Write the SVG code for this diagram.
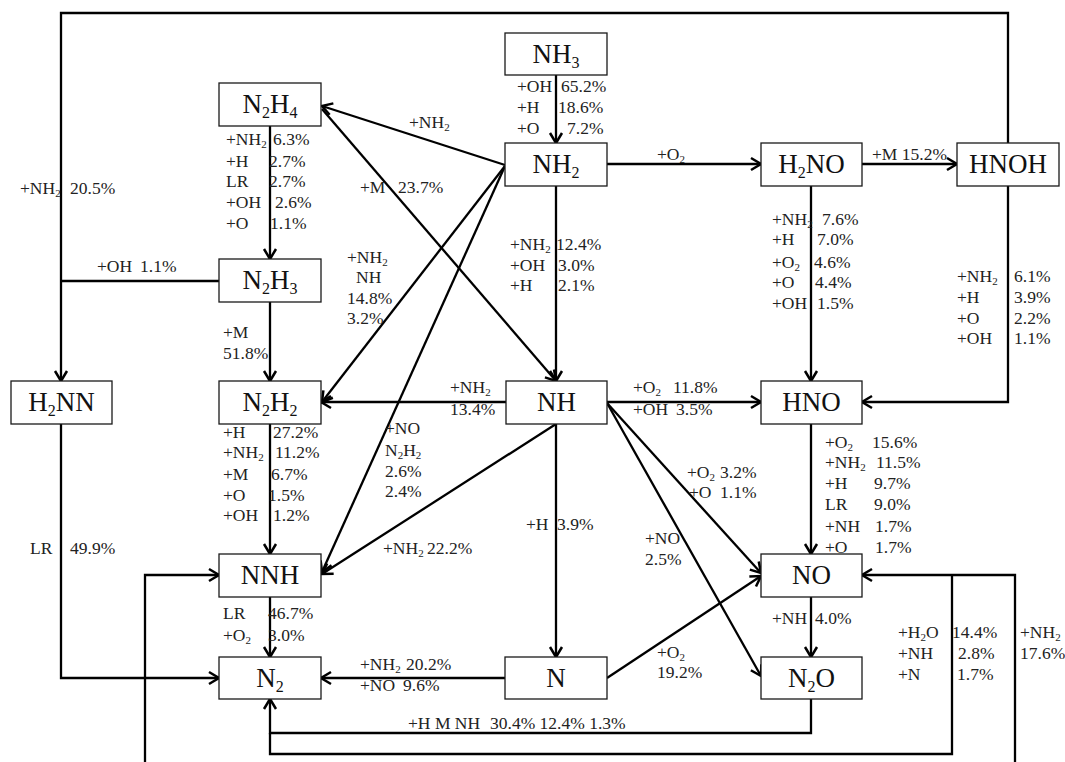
<svg xmlns="http://www.w3.org/2000/svg" width="1065" height="762" viewBox="0 0 1065 762">
<style>
.bx{fill:#fff;stroke:#1a1a1a;stroke-width:1.3}
.bt{font-family:"Liberation Serif","Times New Roman",serif;font-size:27px;text-anchor:middle;fill:#111}
.bs{font-size:16px}
.lb{font-family:"Liberation Serif","Times New Roman",serif;font-size:17.5px;fill:#222}
.s{font-size:11px}
.ln{fill:none;stroke:#000;stroke-width:2.3}
.ar{marker-end:url(#ah)}
</style>
<defs>
<marker id="ah" markerUnits="userSpaceOnUse" viewBox="-12 -8 14 16" refX="0" refY="0" markerWidth="14" markerHeight="16" orient="auto" overflow="visible">
<path d="M-10,-6 L0,0 L-10,6" fill="none" stroke="#000" stroke-width="2.5"/>
</marker>
</defs>
<rect width="1065" height="762" fill="#fff"/>
<g id="connectors">
<path class="ln ar" d="M1008,143 V13 H61 V381"/>
<path class="ln" d="M219,281 H61"/>
<path class="ln ar" d="M556,75 V143"/>
<path class="ln ar" d="M505,165 L322,106"/>
<path class="ln ar" d="M322,109 L556,381"/>
<path class="ln ar" d="M505,166 L322,402"/>
<path class="ln ar" d="M505,166 L322,572"/>
<path class="ln ar" d="M607,164 H761"/>
<path class="ln ar" d="M862,164 H957"/>
<path class="ln ar" d="M556,186 V381"/>
<path class="ln ar" d="M811,186 V381"/>
<path class="ln ar" d="M1008,186 V402 H862"/>
<path class="ln ar" d="M270,126 V259"/>
<path class="ln ar" d="M270,302 V381"/>
<path class="ln ar" d="M506,402 H321"/>
<path class="ln ar" d="M607,402 H761"/>
<path class="ln ar" d="M556,424 L322,574"/>
<path class="ln ar" d="M556,424 V657"/>
<path class="ln ar" d="M607,403 L761,573"/>
<path class="ln ar" d="M607,403 L761,676"/>
<path class="ln ar" d="M607,678 L761,576"/>
<path class="ln ar" d="M811,424 V554"/>
<path class="ln ar" d="M811,597 V657"/>
<path class="ln ar" d="M270,424 V554"/>
<path class="ln ar" d="M270,597 V657"/>
<path class="ln ar" d="M61,424 V678 H219"/>
<path class="ln ar" d="M505,678 H321"/>
<path class="ln ar" d="M811,699 V733 H270 V699"/>
<path class="ln" d="M952,575 V754 H270 V733"/>
<path class="ln ar" d="M1015,775 V575 H862"/>
<path class="ln ar" d="M145,775 V575 H219"/>
</g>
<g id="NH3"><rect class="bx" x="505" y="33" width="102" height="42"/><text class="bt" x="556" y="62.5">NH<tspan class="bs" dy="5">3</tspan></text></g>
<g id="NH2"><rect class="bx" x="505" y="143" width="102" height="43"/><text class="bt" x="556" y="173">NH<tspan class="bs" dy="5">2</tspan></text></g>
<g id="N2H4"><rect class="bx" x="219" y="83" width="102" height="43"/><text class="bt" x="270" y="113">N<tspan class="bs" dy="5">2</tspan><tspan dy="-5">H</tspan><tspan class="bs" dy="5">4</tspan></text></g>
<g id="H2NO"><rect class="bx" x="761" y="143" width="101" height="43"/><text class="bt" x="811.5" y="173">H<tspan class="bs" dy="5">2</tspan><tspan dy="-5">NO</tspan></text></g>
<g id="HNOH"><rect class="bx" x="957" y="143" width="102" height="43"/><text class="bt" x="1008" y="173">HNOH</text></g>
<g id="N2H3"><rect class="bx" x="219" y="259" width="102" height="43"/><text class="bt" x="270" y="289">N<tspan class="bs" dy="5">2</tspan><tspan dy="-5">H</tspan><tspan class="bs" dy="5">3</tspan></text></g>
<g id="H2NN"><rect class="bx" x="11" y="381" width="101" height="43"/><text class="bt" x="61.5" y="411">H<tspan class="bs" dy="5">2</tspan><tspan dy="-5">NN</tspan></text></g>
<g id="N2H2"><rect class="bx" x="219" y="381" width="102" height="43"/><text class="bt" x="270" y="411">N<tspan class="bs" dy="5">2</tspan><tspan dy="-5">H</tspan><tspan class="bs" dy="5">2</tspan></text></g>
<g id="NH"><rect class="bx" x="506" y="381" width="101" height="43"/><text class="bt" x="556.5" y="411">NH</text></g>
<g id="HNO"><rect class="bx" x="761" y="381" width="101" height="43"/><text class="bt" x="811.5" y="411">HNO</text></g>
<g id="NNH"><rect class="bx" x="219" y="554" width="102" height="43"/><text class="bt" x="270" y="584">NNH</text></g>
<g id="NO"><rect class="bx" x="761" y="554" width="101" height="43"/><text class="bt" x="811.5" y="584">NO</text></g>
<g id="N2"><rect class="bx" x="219" y="657" width="102" height="42"/><text class="bt" x="270" y="686.5">N<tspan class="bs" dy="5">2</tspan></text></g>
<g id="N"><rect class="bx" x="505" y="657" width="102" height="42"/><text class="bt" x="556" y="686.5">N</text></g>
<g id="N2O"><rect class="bx" x="761" y="657" width="101" height="42"/><text class="bt" x="811.5" y="686.5">N<tspan class="bs" dy="5">2</tspan><tspan dy="-5">O</tspan></text></g>
<g id="labels" class="lb">
<text x="20" y="194">+NH<tspan class="s" dy="3">2</tspan></text><text x="70" y="194">20.5%</text>
<text x="97" y="272">+OH</text><text x="140" y="272">1.1%</text>
<text x="226" y="145">+NH<tspan class="s" dy="3">2</tspan></text><text x="273" y="145">6.3%</text>
<text x="226" y="167">+H</text><text x="269" y="167">2.7%</text>
<text x="226" y="187">LR</text><text x="269" y="187">2.7%</text>
<text x="226" y="208">+OH</text><text x="275" y="208">2.6%</text>
<text x="226" y="229">+O</text><text x="270" y="229">1.1%</text>
<text x="223" y="338">+M</text><text x="223" y="359">51.8%</text>
<text x="223" y="438">+H</text><text x="273" y="438">27.2%</text>
<text x="223" y="458">+NH<tspan class="s" dy="3">2</tspan></text><text x="275" y="458">11.2%</text>
<text x="223" y="480">+M</text><text x="271" y="480">6.7%</text>
<text x="223" y="501">+O</text><text x="268" y="501">1.5%</text>
<text x="223" y="521">+OH</text><text x="273" y="521">1.2%</text>
<text x="30" y="554">LR</text><text x="70" y="554">49.9%</text>
<text x="223" y="619">LR</text><text x="268" y="619">46.7%</text>
<text x="223" y="641">+O<tspan class="s" dy="3">2</tspan></text><text x="268" y="641">3.0%</text>
<text x="517" y="92">+OH</text><text x="561" y="92">65.2%</text>
<text x="517" y="113">+H</text><text x="558" y="113">18.6%</text>
<text x="517" y="134">+O</text><text x="567" y="134">7.2%</text>
<text x="409" y="128">+NH<tspan class="s" dy="3">2</tspan></text>
<text x="360" y="193">+M</text><text x="398" y="193">23.7%</text>
<text x="657" y="160">+O<tspan class="s" dy="3">2</tspan></text>
<text x="872" y="160">+M 15.2%</text>
<text x="510" y="250">+NH<tspan class="s" dy="3">2</tspan></text><text x="556" y="250">12.4%</text>
<text x="510" y="271">+OH</text><text x="558" y="271">3.0%</text>
<text x="510" y="291">+H</text><text x="558" y="291">2.1%</text>
<text x="347" y="263">+NH<tspan class="s" dy="3">2</tspan></text>
<text x="356" y="283">NH</text>
<text x="347" y="304">14.8%</text>
<text x="347" y="324">3.2%</text>
<text x="450" y="393">+NH<tspan class="s" dy="3">2</tspan></text><text x="450" y="415">13.4%</text>
<text x="385" y="434">+NO</text>
<text x="385" y="456">N<tspan class="s" dy="3">2</tspan><tspan dy="-3">H</tspan><tspan class="s" dy="3">2</tspan></text>
<text x="385" y="477">2.6%</text>
<text x="385" y="497">2.4%</text>
<text x="633" y="393">+O<tspan class="s" dy="3">2</tspan></text><text x="673" y="393">11.8%</text>
<text x="633" y="415">+OH</text><text x="676" y="415">3.5%</text>
<text x="772" y="225">+NH<tspan class="s" dy="3">2</tspan></text><text x="822" y="225">7.6%</text>
<text x="772" y="245">+H</text><text x="817" y="245">7.0%</text>
<text x="772" y="268">+O<tspan class="s" dy="3">2</tspan></text><text x="814" y="268">4.6%</text>
<text x="772" y="288">+O</text><text x="815" y="288">4.4%</text>
<text x="772" y="309">+OH</text><text x="817" y="309">1.5%</text>
<text x="957" y="282">+NH<tspan class="s" dy="3">2</tspan></text><text x="1014" y="282">6.1%</text>
<text x="957" y="303">+H</text><text x="1014" y="303">3.9%</text>
<text x="957" y="324">+O</text><text x="1014" y="324">2.2%</text>
<text x="957" y="344">+OH</text><text x="1014" y="344">1.1%</text>
<text x="825" y="448">+O<tspan class="s" dy="3">2</tspan></text><text x="872" y="448">15.6%</text>
<text x="825" y="468">+NH<tspan class="s" dy="3">2</tspan></text><text x="876" y="468">11.5%</text>
<text x="825" y="489">+H</text><text x="874" y="489">9.7%</text>
<text x="825" y="510">LR</text><text x="874" y="510">9.0%</text>
<text x="825" y="532">+NH</text><text x="875" y="532">1.7%</text>
<text x="825" y="553">+O</text><text x="875" y="553">1.7%</text>
<text x="687" y="478">+O<tspan class="s" dy="3">2</tspan></text><text x="720" y="478">3.2%</text>
<text x="689" y="498">+O</text><text x="720" y="498">1.1%</text>
<text x="383" y="554">+NH<tspan class="s" dy="3">2</tspan></text><text x="427" y="554">22.2%</text>
<text x="526" y="530">+H</text><text x="557" y="530">3.9%</text>
<text x="645" y="544">+NO</text><text x="645" y="565">2.5%</text>
<text x="657" y="658">+O<tspan class="s" dy="3">2</tspan></text><text x="657" y="678">19.2%</text>
<text x="360" y="670">+NH<tspan class="s" dy="3">2</tspan></text><text x="406" y="670">20.2%</text>
<text x="360" y="691">+NO</text><text x="403" y="691">9.6%</text>
<text x="408" y="729">+H M NH</text><text x="490" y="729">30.4% 12.4% 1.3%</text>
<text x="772" y="624">+NH</text><text x="815" y="624">4.0%</text>
<text x="898" y="638">+H<tspan class="s" dy="3">2</tspan><tspan dy="-3">O</tspan></text><text x="952" y="638">14.4%</text>
<text x="898" y="659">+NH</text><text x="958" y="659">2.8%</text>
<text x="898" y="680">+N</text><text x="957" y="680">1.7%</text>
<text x="1020" y="638">+NH<tspan class="s" dy="3">2</tspan></text><text x="1020" y="659">17.6%</text>
</g>
</svg>
